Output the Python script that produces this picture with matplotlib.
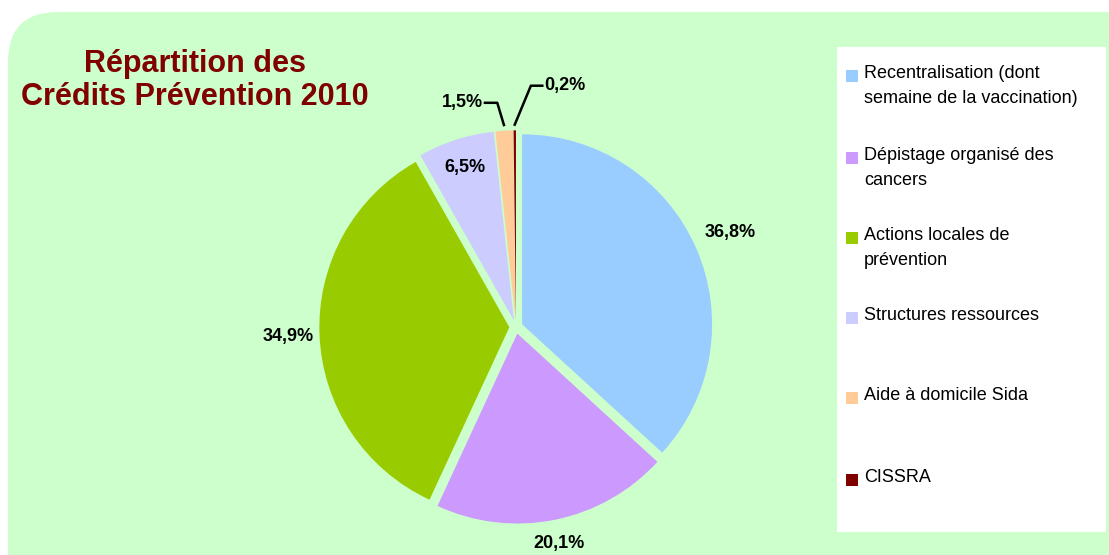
import numpy as np
import matplotlib.pyplot as plt
from matplotlib.patches import FancyBboxPatch, Rectangle

plt.rcParams['font.family'] = ['Liberation Sans', 'DejaVu Sans']

categories = ['Recentralisation (dont\nsemaine de la vaccination)',
              'Dépistage organisé des\ncancers',
              'Actions locales de\nprévention',
              'Structures ressources',
              'Aide à domicile Sida',
              'CISSRA']
values     = [36.8, 20.1, 34.9, 6.5, 1.5, 0.2]
pct_labels = ['36,8%', '20,1%', '34,9%', '6,5%', '1,5%', '0,2%']
colors     = ['#99CCFF', '#CC99FF', '#99CC00', '#CCCCFF', '#FFCC99', '#800000']
bg         = '#CCFFCC'

W, H = 1109, 555
fig = plt.figure(figsize=(W/100, H/100), dpi=100)
fig.patch.set_facecolor('white')

# green panel with rounded top-left corner
panel = FancyBboxPatch((8/W, -0.2), 1.3, (H-12)/H + 0.2,
                       boxstyle='round,pad=0,rounding_size=0.045',
                       transform=fig.transFigure, facecolor=bg, edgecolor='none',
                       mutation_aspect=W/H, zorder=-5)
fig.patches.append(panel)

fig.text(195/W, 1-64/H, 'Répartition des', ha='center', va='center',
         fontsize=22, fontweight='bold', color='#800000')
fig.text(195/W, 1-97/H, 'Crédits Prévention 2010', ha='center', va='center',
         fontsize=22, fontweight='bold', color='#800000')

# pie axes: 1 data unit = R pixels
R, cx, cy = 190, 516, 327
span = 1.4
ax = fig.add_axes([(cx - span*R)/W, (H - cy - span*R)/H, 2*span*R/W, 2*span*R/H])
ax.set_zorder(2)

wedges, _ = ax.pie(values, colors=colors, startangle=90, counterclock=False,
                   explode=[0.035]*len(values),
                   wedgeprops=dict(edgecolor='none'))
ax.set_xlim(-span, span)
ax.set_ylim(-span, span)
ax.axis('off')

dist = [1.23, 1.16, 1.2, 0.88]
for w, lab, d in zip(wedges[:4], pct_labels[:4], dist):
    a = np.deg2rad((w.theta1 + w.theta2) / 2)
    ax.text(d*np.cos(a), d*np.sin(a), lab, ha='center', va='center',
            fontsize=13, fontweight='bold')

# small slices with leader lines
for w, lab, side in zip(wedges[4:], pct_labels[4:], [-1, 1]):
    a = np.deg2rad((w.theta1 + w.theta2) / 2)
    r0 = 1.03
    x0, y0 = w.center[0] + r0*np.cos(a), w.center[1] + r0*np.sin(a)
    if side < 0:
        x1, y1 = x0 - 0.035, 1.18
        x2 = x1 - 0.065
        ax.plot([x0, x1, x2], [y0, y1, y1], color='black', lw=1.8)
        ax.text(x2 - 0.01, y1, lab, ha='right', va='center', fontsize=13, fontweight='bold')
    else:
        x1, y1 = x0 + 0.085, 1.27
        x2 = x1 + 0.06
        ax.plot([x0, x1, x2], [y0, y1, y1], color='black', lw=1.8)
        ax.text(x2 + 0.01, y1, lab, ha='left', va='center', fontsize=13, fontweight='bold')

# legend box
fig.patches.append(Rectangle((837/W, 1-532/H), 269/W, 485/H, transform=fig.transFigure,
                             facecolor='white', edgecolor='none', zorder=-4))
ys = [76, 158, 238, 318, 398, 480]
for cat, c, y in zip(categories, colors, ys):
    fig.patches.append(Rectangle((846/W, 1-(y+6)/H), 12/W, 12/H, transform=fig.transFigure,
                                 facecolor=c, edgecolor='none'))
    fig.text(864/W, 1-(y-11)/H, cat, ha='left', va='top', fontsize=13,
             linespacing=1.6)

fig.savefig('out.png', dpi=100, facecolor=fig.get_facecolor())
